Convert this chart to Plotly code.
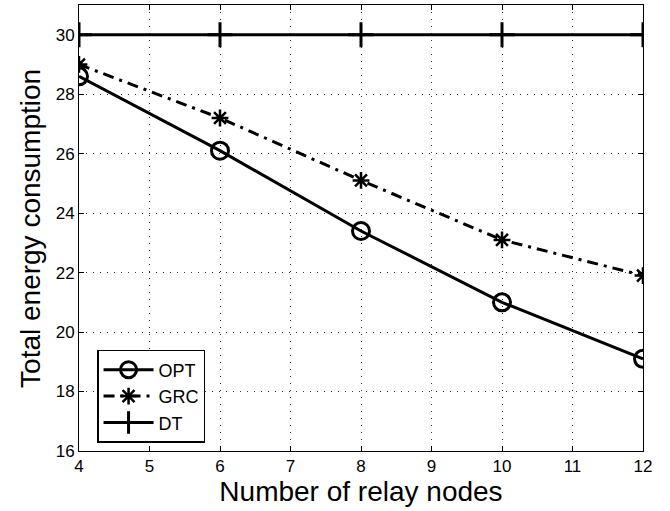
import plotly.graph_objects as go

relay_nodes = [4, 6, 8, 10, 12]
opt_values = [28.6, 26.1, 23.4, 21.0, 19.1]
grc_values = [29.0, 27.2, 25.1, 23.1, 21.9]
dt_values = [30, 30, 30, 30, 30]
x_ticks = [4, 5, 6, 7, 8, 9, 10, 11, 12]
y_ticks = [16, 18, 20, 22, 24, 26, 28, 30]

FONT = "Liberation Sans, Arial, sans-serif"

fig = go.Figure()
fig.add_trace(go.Scatter(
    x=relay_nodes, y=opt_values, name="OPT", mode="lines+markers",
    line=dict(color="black", width=3),
    marker=dict(symbol="circle-open", size=17, color="black", line=dict(width=3)),
))
fig.add_trace(go.Scatter(
    x=relay_nodes, y=grc_values, name="GRC", mode="lines+markers",
    line=dict(color="black", width=3, dash="11px,6px,3px,6px"),
    marker=dict(symbol="asterisk-open", size=14, color="black", line=dict(width=2.5)),
))
fig.add_trace(go.Scatter(
    x=relay_nodes, y=dt_values, name="DT", mode="lines+markers",
    line=dict(color="black", width=3),
    marker=dict(symbol="cross-thin-open", size=18, color="black", line=dict(width=3)),
))

tick_font = dict(size=17, color="black", family=FONT)

fig.update_layout(
    width=670, height=511,
    margin=dict(l=79, r=27, t=5, b=60),
    plot_bgcolor="white", paper_bgcolor="white",
    font=dict(family=FONT, color="black", size=17),
    xaxis=dict(
        range=[4, 12], tickmode="array", tickvals=x_ticks, ticktext=[str(v) for v in x_ticks],
        showline=True, linecolor="black", linewidth=1, mirror="ticks",
        ticks="inside", ticklen=5, tickcolor="black",
        showgrid=True, gridcolor="#333333", griddash="1px,6px", gridwidth=1,
        zeroline=False, tickfont=tick_font,
        title=dict(text="Number of relay nodes", font=dict(size=28, color="black"), standoff=0),
    ),
    yaxis=dict(
        range=[16, 31], tickmode="array", tickvals=y_ticks, ticktext=[str(v) for v in y_ticks],
        showline=True, linecolor="black", linewidth=1, mirror="ticks",
        ticks="inside", ticklen=5, tickcolor="black",
        showgrid=True, gridcolor="#333333", griddash="1px,6px", gridwidth=1,
        zeroline=False, tickfont=tick_font,
    ),
    legend=dict(x=0.032, y=0.2265, xanchor="left", yanchor="top",
                bgcolor="white", bordercolor="black", borderwidth=1.5,
                font=dict(size=18, color="black"), tracegroupgap=0, itemwidth=50),
    showlegend=True,
)

fig.add_annotation(
    text="Total energy consumption", textangle=-90,
    xref="paper", yref="paper", x=-0.087, y=0.5,
    xanchor="center", yanchor="middle", showarrow=False,
    font=dict(size=28, color="black", family=FONT),
)

fig.write_html("out.html", config={"displayModeBar": False},
               post_script="document.body.style.margin='0';document.body.style.overflow='hidden';")
